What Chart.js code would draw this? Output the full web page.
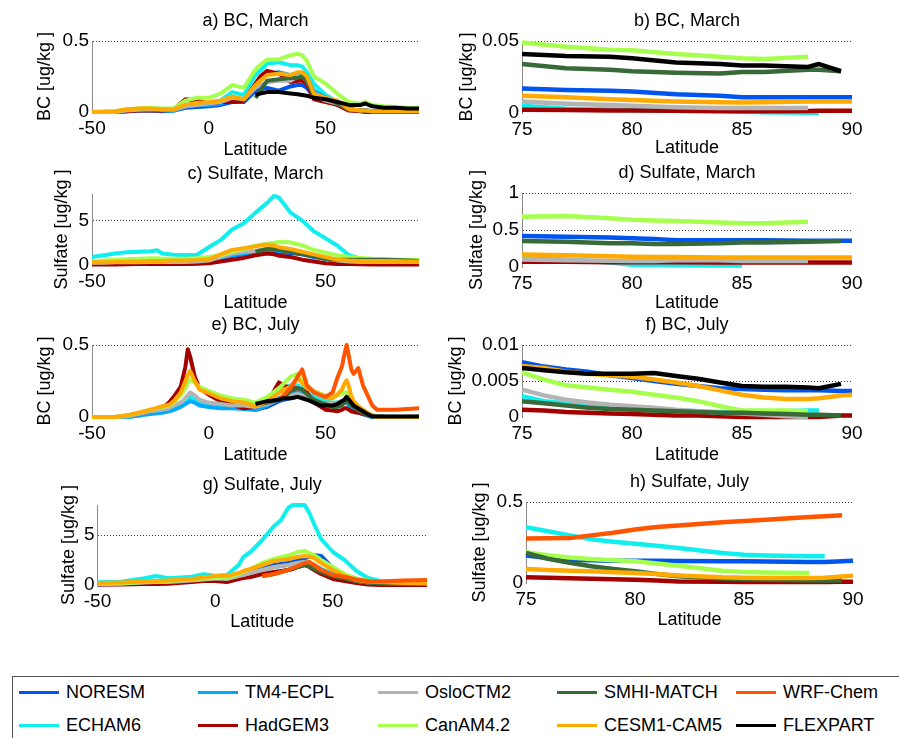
<!DOCTYPE html>
<html><head><meta charset="utf-8">
<script src="https://cdn.jsdelivr.net/npm/chart.js@4.4.1/dist/chart.umd.min.js"></script>
<style>
html,body{margin:0;padding:0;background:#fff;width:899px;height:738px;overflow:hidden;position:relative}
canvas.p{position:absolute;left:0;top:0}
#legend{position:absolute;left:12px;top:676px;width:900px;height:80px;border:1px solid #555;box-sizing:border-box;font-family:'Liberation Sans',Arial,Helvetica,sans-serif;font-size:18px;color:#000}
.li{position:absolute;height:22px;line-height:22px;white-space:nowrap}
.li .sw{position:absolute;left:0;top:10px;width:40px;height:3px}
.li .tx{position:absolute;left:47px;top:0}
</style></head><body>
<div id="legend"></div>
<script>
// ---------- models (plot order; later drawn on top) ----------
const MODELS = ['NORESM','ECHAM6','TM4-ECPL','HadGEM3','OsloCTM2','CanAM4.2','SMHI-MATCH','CESM1-CAM5','WRF-Chem','FLEXPART'];
const COLORS = ['#0055ee','#10eeee','#00aaff','#a50000','#b4b4b4','#a6ff4d','#386938','#ffaa00','#ff5500','#000000'];

// ---------- tick labels ----------
const xTicksGlobal = [-50, 0, 50];
const xTicksArctic = [75, 80, 85, 90];
const yTicksA = [0, 0.5];
const yTicksB = [0, 0.05];
const yTicksC = [0, 5];
const yTicksD = [0, 0.5, 1];
const yTicksE = [0, 0.5];
const yTicksF = [0, 0.005, 0.01];
const yTicksG = [0, 5];
const yTicksH = [0, 0.5];

// ---------- a) BC, March ----------
const latA = [-50,-40,-35,-30,-25,-20,-15,-10,-5,0,5,10,15,20,22,25,30,35,38,40,42,45,50,55,60,65,67,70,75,80,85,90];
const aNORESM = [0,0,0.005,0.01,0.01,0.005,0.01,0.03,0.035,0.04,0.05,0.07,0.07,0.15,0.16,0.17,0.15,0.18,0.19,0.19,0.17,0.11,0.09,0.05,0.02,0.01,0.01,0.005,0.005,0.005,0.005,0.005];
const aECHAM6 = [0,0,0.01,0.015,0.02,0.015,0.015,0.05,0.06,0.06,0.08,0.14,0.12,0.26,0.29,0.34,0.35,0.33,0.33,0.32,0.28,0.2,0.12,0.07,0.02,0.01,0.01,0.005,0,0,0,0];
const aTM4 = [0,0,0.005,0.01,0.01,0.01,0.01,0.04,0.05,0.05,0.06,0.09,0.08,0.2,0.22,0.27,0.28,0.26,0.27,0.27,0.24,0.15,0.1,0.06,0.02,0.01,0.01,0.005,0.005,0.005,0.005,0.005];
const aHadGEM3 = [0,0,0.005,0.01,0.01,0.01,0.02,0.09,0.08,0.06,0.07,0.07,0.08,0.2,0.25,0.29,0.27,0.21,0.22,0.22,0.2,0.09,0.07,0.05,0.01,0.005,0,0,0,0,0,0];
const aOslo = [0,0,0.01,0.015,0.02,0.015,0.015,0.04,0.05,0.06,0.07,0.1,0.09,0.17,0.19,0.21,0.22,0.22,0.25,0.25,0.22,0.12,0.08,0.06,0.02,0.01,0.01,0.005,0.005,0.005,0.005,0.005];
const aCanAM = [0,0.005,0.02,0.025,0.03,0.025,0.025,0.08,0.1,0.1,0.13,0.19,0.17,0.3,0.33,0.37,0.37,0.4,0.41,0.4,0.36,0.25,0.2,0.13,0.07,0.06,0.07,0.05,0.04,0.035,0.03,0.03];
const aSMHI = [null,null,null,null,null,null,null,null,null,null,null,null,null,0.1,0.15,0.22,0.23,0.24,0.24,0.25,0.22,0.12,0.1,0.06,0.02,0.01,0.01,0.005,0.005,0.005,0.005,0.005];
const aCESM = [0,0.005,0.02,0.025,0.025,0.02,0.02,0.05,0.065,0.07,0.08,0.11,0.09,0.19,0.22,0.26,0.27,0.26,0.28,0.28,0.25,0.13,0.1,0.08,0.02,0.01,0.01,0.005,0.005,0.005,0.005,0.005];
const aFLEX = [null,null,null,null,null,null,null,null,null,null,null,null,null,0.12,0.13,0.14,0.14,0.13,0.125,0.12,0.115,0.1,0.09,0.07,0.05,0.05,0.06,0.04,0.03,0.03,0.025,0.025];

// ---------- b) BC, March (Arctic) ----------
const latB = [75,77,79,80,82,84,85,86,88,88.5,89.5,90];
const bNORESM = [0.017,0.016,0.0155,0.015,0.013,0.012,0.011,0.011,0.011,0.011,0.011,0.011];
const bECHAM6 = [0.005,0.003,0.0025,0.002,0.0015,0.001,0.0008,0.0005,0.0002,0,null,null];
const bHadGEM3 = [0.0022,0.002,0.0018,0.0017,0.0015,0.0014,0.0013,0.0013,0.0014,0.0016,0.0016,0.0016];
const bOslo = [0.008,0.0065,0.0055,0.005,0.004,0.0035,0.0035,0.0035,0.0035,null,null,null];
const bCanAM = [0.049,0.046,0.044,0.0435,0.041,0.039,0.038,0.0375,0.039,null,null,null];
const bSMHI = [0.034,0.031,0.03,0.029,0.028,0.0275,0.0285,0.0285,0.03,0.03,0.029,null];
const bCESM = [0.012,0.011,0.0095,0.009,0.008,0.0075,0.0073,0.0075,0.008,0.008,0.008,0.008];
const bFLEX = [0.041,0.0395,0.039,0.038,0.035,0.034,0.033,0.033,0.032,0.034,0.029,null];

// ---------- c) Sulfate, March ----------
const latC = [-50,-45,-40,-35,-30,-25,-22,-20,-15,-10,-5,0,5,10,15,20,25,28,30,35,40,45,50,55,60,65,70,75,80,85,90];
const cNORESM = [0.1,0.1,0.1,0.12,0.12,0.12,0.12,0.12,0.12,0.15,0.2,0.4,0.7,1.0,1.2,1.35,1.5,1.5,1.4,1.35,1.2,0.9,0.7,0.5,0.4,0.35,0.35,0.35,0.35,0.35,0.3];
const cECHAM6 = [0.9,1.1,1.3,1.45,1.5,1.55,1.65,1.3,1.15,1.1,1.15,2.0,2.8,4.0,4.7,5.9,7.0,7.8,7.6,5.9,5.0,3.8,3.0,2.2,1.1,0.7,0.6,0.5,0.5,0.45,0.45];
const cTM4 = [0.2,0.2,0.25,0.3,0.3,0.3,0.3,0.3,0.3,0.3,0.35,0.5,0.8,1.1,1.3,1.5,1.7,1.7,1.6,1.5,1.3,1.0,0.7,0.5,0.4,0.35,0.3,0.3,0.3,0.3,0.3];
const cHadGEM3 = [0.05,0.05,0.05,0.08,0.1,0.1,0.1,0.1,0.1,0.12,0.15,0.2,0.4,0.6,0.8,1.1,1.3,1.2,1.05,0.9,0.6,0.4,0.2,0.12,0.1,0.08,0.05,0.05,0.05,0.05,0.05];
const cOslo = [0.25,0.25,0.3,0.3,0.3,0.35,0.35,0.35,0.35,0.35,0.4,0.5,0.9,1.3,1.5,1.6,1.8,1.8,1.7,1.6,1.4,1.1,0.8,0.5,0.4,0.35,0.35,0.35,0.35,0.35,0.35];
const cCanAM = [0.4,0.5,0.6,0.65,0.7,0.75,0.75,0.7,0.7,0.7,0.75,0.9,1.1,1.5,1.8,2.2,2.4,2.5,2.6,2.55,2.2,1.7,1.4,1.1,0.9,0.8,0.7,0.65,0.6,0.6,0.55];
const cSMHI = [null,null,null,null,null,null,null,null,null,null,null,null,null,null,null,1.5,1.8,1.75,1.7,1.5,1.2,1.0,0.7,0.6,0.6,0.6,0.6,0.6,0.55,0.5,0.45];
const cCESM = [0.3,0.3,0.35,0.4,0.4,0.45,0.45,0.45,0.5,0.5,0.55,0.65,1.2,1.7,1.9,2.1,2.3,2.2,2.0,1.8,1.5,1.2,0.9,0.6,0.5,0.45,0.45,0.45,0.45,0.4,0.4];

// ---------- d) Sulfate, March (Arctic) ----------
const latD = [75,77,79,80,81,82,84,85,86,88,89.5,90];
const dNORESM = [0.42,0.41,0.4,0.39,0.38,0.36,0.36,0.36,0.36,0.355,0.355,0.355];
const dECHAM6 = [0.12,0.1,0.06,0.03,0.03,0.025,0.02,0.02,null,null,null,null];
const dHadGEM3 = [0.07,0.07,0.065,0.065,0.065,0.065,0.06,0.06,0.06,0.06,0.06,0.06];
const dOslo = [0.1,0.09,0.085,0.08,0.08,0.09,0.09,0.08,0.08,0.08,null,null];
const dCanAM = [0.68,0.69,0.66,0.64,0.63,0.62,0.6,0.59,0.59,0.61,null,null];
const dSMHI = [0.35,0.34,0.32,0.32,0.31,0.31,0.32,0.33,0.33,0.34,0.35,null];
const dCESM = [0.17,0.16,0.145,0.14,0.135,0.135,0.13,0.13,0.13,0.13,0.13,0.13];

// ---------- e) BC, July ----------
const latE = [-50,-40,-35,-30,-25,-20,-17,-15,-12,-10,-9,-8,-6,-4,0,5,10,15,20,25,30,32,35,38,40,42,45,48,50,53,55,57,58,59,60,61,62,64,66,68,70,72,75,80,85,90];
const eNORESM = [0,0,0,0.01,0.03, 0.04,0.05,0.06,0.08,0.1, 0.12,0.13,0.11,0.09,0.08, 0.07,0.065,0.06,0.05,0.07, 0.11,0.12,0.13,0.14,0.14, 0.13,0.1,0.09,0.08,0.08, 0.08,0.09,0.1,0.1,0.09, 0.07,0.06,0.04,0.02,0.01, 0,0,0,0,0, 0];
const eECHAM6 = [0,0,0,0.01,0.03, 0.04,0.05,0.06,0.08,0.11, 0.13,0.14,0.12,0.1,0.08, 0.07,0.07,0.06,0.06,0.1, 0.18,0.2,0.22,0.22,0.2, 0.17,0.14,0.12,0.11,0.1, 0.1,0.11,0.11,0.1,0.08, 0.07,0.06,0.04,0.02,0.01, 0,0,0,0,0, 0];
const eTM4 = [0,0,0,0.01,0.02, 0.03,0.04,0.05,0.07,0.09, 0.1,0.11,0.1,0.08,0.07, 0.06,0.06,0.055,0.05,0.08, 0.13,0.14,0.16,0.17,0.16, 0.14,0.11,0.09,0.08,0.08, 0.08,0.09,0.1,0.1,0.08, 0.06,0.05,0.03,0.02,0.01, 0,0,0,0,0, 0];
const eHadGEM3 = [0,0,0.01,0.02,0.04, 0.06,0.1,0.14,0.21,0.35, 0.47,0.42,0.28,0.2,0.155, 0.11,0.085,0.06,0.07,0.1, 0.24,0.22,0.2,0.2,0.19, 0.17,0.1,0.07,0.05,0.045, 0.04,0.05,0.06,0.06,0.05, 0.04,0.035,0.03,0.02,0.015, 0.005,0,0,0,0, 0];
const eOslo = [0,0,0.005,0.02,0.04, 0.05,0.06,0.08,0.1,0.13, 0.15,0.17,0.15,0.12,0.1, 0.09,0.08,0.08,0.07,0.09, 0.12,0.13,0.15,0.16,0.15, 0.14,0.12,0.1,0.09,0.09, 0.1,0.11,0.12,0.12,0.11, 0.09,0.08,0.05,0.03,0.02, 0.01,0,0,0,0, 0];
const eCanAM = [0,0,0.01,0.03,0.05, 0.07,0.08,0.1,0.15,0.2, 0.24,0.26,0.24,0.21,0.18, 0.15,0.13,0.12,0.1,0.14, 0.2,0.23,0.28,0.3,0.26, 0.22,0.18,0.16,0.15,0.14, 0.15,0.16,0.17,0.17,0.14, 0.12,0.1,0.07,0.05,0.03, 0.01,0,0,0,0, 0];
const eSMHI = [null,null,null,null,null, null,null,null,null,null, null,null,null,null,null, null,null,null,0.08,0.1, 0.12,0.14,0.18,0.2,0.19, 0.16,0.12,0.1,0.09,0.07, 0.07,0.08,0.1,0.11,0.1, 0.08,0.07,0.05,0.03,0.02, 0.01,0.005,0.003,0.002,0.002, 0.002];
const eCESM = [0,0,0.01,0.03,0.05, 0.075,0.085,0.11,0.17,0.25, 0.29,0.32,0.25,0.19,0.165, 0.13,0.11,0.1,0.075,0.11, 0.165,0.19,0.21,0.27,0.235, 0.2,0.18,0.155,0.13,0.13, 0.155,0.19,0.23,0.255,0.21, 0.145,0.11,0.075,0.05,0.03, 0.01,0,0,0,0, 0];
const eWRF = [null,null,null,null,null, null,null,null,null,null, null,null,null,null,null, null,null,null,null,null, 0.12,0.15,0.2,0.28,0.33, 0.22,0.17,0.15,0.14,0.17, 0.27,0.35,0.43,0.5,0.42, 0.33,0.3,0.34,0.22,0.15, 0.08,0.05,0.05,0.05,0.055, 0.06];
const eFLEX = [null,null,null,null,null, null,null,null,null,null, null,null,null,null,null, null,null,null,0.09,0.11, 0.12,0.13,0.13,0.14,0.13, 0.12,0.1,0.08,0.08,0.08, 0.09,0.11,0.12,0.14,0.12, 0.1,0.08,0.06,0.04,0.02, 0.005,0.003,0.003,0.003,0.003, 0.003];

// ---------- f) BC, July (Arctic) ----------
const latF = [75,76,77,78,79,80,81,82,83,84,85,86,87,88,88.5,89.5,90];
const fNORESM = [0.0076,0.007,0.0066,0.0063,0.0058,0.0054,0.005,0.0046,0.0043,0.004,0.0039,0.0038,0.0037,0.0037,0.0037,0.0036,0.0036];
const fECHAM6 = [0.0029,0.0022,0.0019,0.0016,0.0013,0.0011,0.001,0.0009,0.0008,0.0007,0.0005,0.0006,0.0008,0.0009,0.0009,null,null];
const fHadGEM3 = [0.001,0.0009,0.0007,0.0006,0.0005,0.0004,0.0003,0.0002,0.0002,0.0001,0,0,0,0,0,0.0002,0.0002];
const fOslo = [0.0038,0.003,0.0024,0.002,0.0017,0.0015,0.0013,0.001,0.0008,0.0006,0.0005,0.0003,0.0001,0,null,null,null];
const fCanAM = [0.0062,0.0052,0.0044,0.0041,0.0038,0.0035,0.0031,0.0027,0.0022,0.0015,0.0009,0.0009,0.0009,0.0008,null,null,null];
const fSMHI = [0.0022,0.0019,0.0016,0.0013,0.0011,0.001,0.0009,0.0008,0.0007,0.0006,0.0006,0.0005,0.0004,0.0003,0.0003,0.0002,null];
const fCESM = [0.0071,0.0068,0.0063,0.006,0.0058,0.0056,0.0052,0.0048,0.0043,0.0037,0.0031,0.0027,0.0025,0.0025,0.0026,0.003,0.0031];
const fFLEX = [0.0068,0.0065,0.0062,0.006,0.006,0.006,0.0061,0.0057,0.0053,0.0048,0.0043,0.0042,0.0042,0.0041,0.004,0.0046,null];

// ---------- g) Sulfate, July ----------
const latG = [-50,-40,-30,-25,-20,-10,-5,0,5,10,12,15,20,25,28,31,33,35,38,40,42,45,50,55,60,65,70,80,90];
const gNORESM = [0.05,0.1,0.2,0.25,0.3,0.4,0.5,0.6,0.6,0.9,1.1,1.3,1.6,2.0,2.1,2.2,2.3,2.5,2.7,2.8,3.0,2.9,1.7,1.0,0.6,0.4,0.3,0.2,0.2];
const gECHAM6 = [0.27,0.33,0.67,0.9,0.67,0.83,1.07,0.93,1.0,2.0,2.8,3.3,4.5,5.9,6.5,7.7,8,8,8,7.2,6.1,4.6,3.3,2.5,1.4,0.7,0.4,0.27,0.17];
const gTM4 = [0.08,0.12,0.2,0.25,0.3,0.4,0.5,0.6,0.6,0.9,1.0,1.2,1.5,1.8,1.9,2.0,2.1,2.2,2.3,2.2,2.0,1.6,1.1,0.7,0.4,0.25,0.2,0.15,0.1];
const gHadGEM3 = [0.05,0.05,0.1,0.1,0.12,0.3,0.4,0.4,0.3,0.6,0.7,0.8,1.1,1.3,1.4,1.5,1.6,1.8,2.0,1.8,1.5,1.1,0.6,0.4,0.2,0.05,0,0,0];
const gOslo = [0.1,0.15,0.25,0.3,0.3,0.45,0.55,0.65,0.6,0.9,1.0,1.2,1.5,1.8,1.9,2.0,2.1,2.2,2.3,2.2,1.9,1.5,1.0,0.7,0.4,0.25,0.2,0.15,0.1];
const gCanAM = [0.1,0.15,0.3,0.35,0.4,0.55,0.65,0.7,0.75,1.1,1.3,1.6,2.2,2.6,2.8,2.95,3.1,3.3,3.4,3.2,3.0,2.5,1.8,1.1,0.65,0.45,0.35,0.3,0.3];
const gSMHI = [null,null,null,null,null,null,null,null,null,null,null,null,0.9,1.1,1.3,1.5,1.65,1.8,2.0,1.85,1.6,1.3,0.9,0.65,0.4,0.25,0.15,0.1,0.1];
const gCESM = [0.2,0.25,0.35,0.4,0.45,0.6,0.75,0.9,0.9,1.2,1.4,1.6,2.0,2.4,2.5,2.6,2.7,2.8,2.9,2.85,2.7,2.2,1.5,0.9,0.5,0.35,0.3,0.2,0.15];
const gWRF = [null,null,null,null,null,null,null,null,null,null,null,null,0.9,1.1,1.3,1.5,1.7,1.9,2.2,2.3,2.0,1.5,1.0,0.8,0.55,0.4,0.35,0.45,0.5];

// ---------- h) Sulfate, July (Arctic) ----------
const latH = [75,76,77,78,79,80,81,82,84,85,86,88,88.7,89.5,90];
const hNORESM = [0.17,0.155,0.144,0.14,0.138,0.138,0.137,0.136,0.134,0.134,0.133,0.13,0.13,0.135,0.138];
const hECHAM6 = [0.344,0.32,0.294,0.27,0.255,0.243,0.23,0.216,0.185,0.175,0.17,0.165,0.165,null,null];
const hHadGEM3 = [0.035,0.032,0.03,0.027,0.023,0.02,0.015,0.01,0.007,0.006,0.006,0.006,0.006,0.008,0.008];
const hCanAM = [0.19,0.172,0.158,0.148,0.14,0.134,0.12,0.107,0.076,0.068,0.065,0.062,null,null,null];
const hSMHI = [0.185,0.15,0.125,0.103,0.087,0.072,0.056,0.041,0.027,0.023,0.02,0.015,0.015,0.015,null];
const hCESM = [0.086,0.08,0.076,0.072,0.067,0.062,0.055,0.047,0.035,0.033,0.031,0.031,0.033,0.04,0.045];
const hWRF = [0.274,0.276,0.278,0.294,0.31,0.33,0.345,0.355,0.375,0.383,0.39,0.408,0.412,0.418,null];

// ---------- layout ----------
const FONT = "'Liberation Sans', Arial, Helvetica, sans-serif";
const FS = 18, LH = FS * 1.2, TITLE_GAP = 9.2;
Chart.defaults.font.family = FONT;
Chart.defaults.font.size = FS;
Chart.defaults.color = '#000';

const PANELS = [
  {title:'a) BC, March', ylabel:'BC [ug/kg ]', lat:latA, xmin:-50, xmax:90, xt:xTicksGlobal, ymax:0.5, yt:yTicksA,
   L:92, T:41, R:419, B:112, yOff:47, xOff:38, lw:4,
   s:{'NORESM':aNORESM,'ECHAM6':aECHAM6,'TM4-ECPL':aTM4,'HadGEM3':aHadGEM3,'OsloCTM2':aOslo,'CanAM4.2':aCanAM,'SMHI-MATCH':aSMHI,'CESM1-CAM5':aCESM,'FLEXPART':aFLEX}},
  {title:'b) BC, March', ylabel:'BC [ug/kg ]', lat:latB, xmin:75, xmax:90, xt:xTicksArctic, ymax:0.05, yt:yTicksB,
   L:522, T:41, R:852, B:113, yOff:55, xOff:35, lw:4.5,
   s:{'NORESM':bNORESM,'ECHAM6':bECHAM6,'HadGEM3':bHadGEM3,'OsloCTM2':bOslo,'CanAM4.2':bCanAM,'SMHI-MATCH':bSMHI,'CESM1-CAM5':bCESM,'FLEXPART':bFLEX}},
  {title:'c) Sulfate, March', ylabel:'Sulfate [ug/kg ]', lat:latC, xmin:-50, xmax:90, xt:xTicksGlobal, ymax:8, yt:yTicksC,
   L:92, T:194, R:419, B:265, yOff:30, xOff:38, lw:4,
   s:{'NORESM':cNORESM,'ECHAM6':cECHAM6,'TM4-ECPL':cTM4,'HadGEM3':cHadGEM3,'OsloCTM2':cOslo,'CanAM4.2':cCanAM,'SMHI-MATCH':cSMHI,'CESM1-CAM5':cCESM}},
  {title:'d) Sulfate, March', ylabel:'Sulfate [ug/kg ]', lat:latD, xmin:75, xmax:90, xt:xTicksArctic, ymax:1, yt:yTicksD,
   L:522, T:193, R:852, B:267, yOff:45, xOff:36, lw:4.5,
   s:{'NORESM':dNORESM,'ECHAM6':dECHAM6,'HadGEM3':dHadGEM3,'OsloCTM2':dOslo,'CanAM4.2':dCanAM,'SMHI-MATCH':dSMHI,'CESM1-CAM5':dCESM}},
  {title:'e) BC, July', ylabel:'BC [ug/kg ]', lat:latE, xmin:-50, xmax:90, xt:xTicksGlobal, ymax:0.5, yt:yTicksE,
   L:92, T:345, R:419, B:417, yOff:47, xOff:38, lw:4,
   s:{'NORESM':eNORESM,'ECHAM6':eECHAM6,'TM4-ECPL':eTM4,'HadGEM3':eHadGEM3,'OsloCTM2':eOslo,'CanAM4.2':eCanAM,'SMHI-MATCH':eSMHI,'CESM1-CAM5':eCESM,'WRF-Chem':eWRF,'FLEXPART':eFLEX}},
  {title:'f) BC, July', ylabel:'BC [ug/kg ]', lat:latF, xmin:75, xmax:90, xt:xTicksArctic, ymax:0.01, yt:yTicksF,
   L:522, T:345, R:852, B:417, yOff:66, xOff:38, lw:4.5,
   s:{'NORESM':fNORESM,'ECHAM6':fECHAM6,'HadGEM3':fHadGEM3,'OsloCTM2':fOslo,'CanAM4.2':fCanAM,'SMHI-MATCH':fSMHI,'CESM1-CAM5':fCESM,'FLEXPART':fFLEX}},
  {title:'g) Sulfate, July', ylabel:'Sulfate [ug/kg ]', lat:latG, xmin:-50, xmax:90, xt:xTicksGlobal, ymax:8, yt:yTicksG,
   L:97.5, T:505, R:427, B:585, yOff:28, xOff:37, lw:4,
   s:{'NORESM':gNORESM,'ECHAM6':gECHAM6,'TM4-ECPL':gTM4,'HadGEM3':gHadGEM3,'OsloCTM2':gOslo,'CanAM4.2':gCanAM,'SMHI-MATCH':gSMHI,'CESM1-CAM5':gCESM,'WRF-Chem':gWRF}},
  {title:'h) Sulfate, July', ylabel:'Sulfate [ug/kg ]', lat:latH, xmin:75, xmax:90, xt:xTicksArctic, ymax:0.5, yt:yTicksH,
   L:526, T:502, R:853, B:583, yOff:46, xOff:37, lw:4.5,
   s:{'NORESM':hNORESM,'ECHAM6':hECHAM6,'HadGEM3':hHadGEM3,'CanAM4.2':hCanAM,'SMHI-MATCH':hSMHI,'CESM1-CAM5':hCESM,'WRF-Chem':hWRF}}
];

function makePanel(p) {
  const cv = document.createElement('canvas');
  cv.width = 899; cv.height = 738; cv.className = 'p';
  cv.style.width = '899px'; cv.style.height = '738px';
  document.body.appendChild(cv);
  const W = p.yOff + LH / 2, H = p.xOff + LH / 2;
  const datasets = [];
  MODELS.forEach((m, i) => {
    const vals = p.s[m];
    if (!vals) return;
    datasets.push({
      label: m,
      data: p.lat.map((x, k) => ({x: x, y: vals[k]})),
      borderColor: COLORS[i], backgroundColor: COLORS[i],
      borderWidth: p.lw, pointRadius: 0, tension: 0, fill: false,
      borderJoinStyle: 'round', spanGaps: false, order: MODELS.length - i, clip: 6
    });
  });
  new Chart(cv, {
    type: 'line',
    data: {datasets},
    options: {
      responsive: false, animation: false, devicePixelRatio: 1,
      layout: {padding: {left: p.L - W, right: 899 - p.R, top: p.T - (LH + TITLE_GAP), bottom: 738 - p.B - H}},
      plugins: {
        legend: {display: false}, tooltip: {enabled: false},
        title: {display: true, text: p.title, fullSize: false, color: '#000',
                font: {size: FS, family: FONT, weight: 'normal'}, padding: {top: 0, bottom: TITLE_GAP}}
      },
      scales: {
        x: {
          type: 'linear', min: p.xmin, max: p.xmax,
          afterBuildTicks: s => { s.ticks = p.xt.map(v => ({value: v})); },
          afterFit: s => { s.height = H; },
          grid: {display: false, drawTicks: false},
          border: {display: false},
          ticks: {padding: 5, autoSkip: false, maxRotation: 0, color: '#000', font: {size: 19}, callback: v => String(v)},
          title: {display: true, text: 'Latitude', padding: 0, color: '#000', font: {size: FS, family: FONT}}
        },
        y: {
          type: 'linear', min: 0, max: p.ymax,
          afterBuildTicks: s => { s.ticks = p.yt.map(v => ({value: v})); },
          afterFit: s => { s.width = W; },
          grid: {drawTicks: false, lineWidth: 1,
                 color: c => (c.tick && c.tick.value !== 0) ? '#3a3a3a' : 'rgba(0,0,0,0)'},
          border: {display: true, color: '#8a8a8a', width: 1, dash: [1, 2]},
          ticks: {padding: 3, autoSkip: false, color: '#000', font: {size: 19}, callback: v => String(v)},
          title: {display: true, text: p.ylabel, padding: 0, color: '#000', font: {size: FS, family: FONT}}
        }
      }
    }
  });
}
PANELS.forEach(makePanel);

// ---------- legend (HTML) ----------
const legend = document.getElementById('legend');
const LEG_COL_X = [6, 185, 365, 544, 723];
const LEG_ROW_Y = [4, 37];
MODELS.forEach((m, i) => {
  const col = Math.floor(i / 2), row = i % 2;
  const d = document.createElement('div');
  d.className = 'li';
  d.style.left = LEG_COL_X[col] + 'px';
  d.style.top = LEG_ROW_Y[row] + 'px';
  const sw = document.createElement('span'); sw.className = 'sw'; sw.style.background = COLORS[i];
  const tx = document.createElement('span'); tx.className = 'tx'; tx.textContent = m;
  d.appendChild(sw); d.appendChild(tx);
  legend.appendChild(d);
});
</script>
</body></html>
